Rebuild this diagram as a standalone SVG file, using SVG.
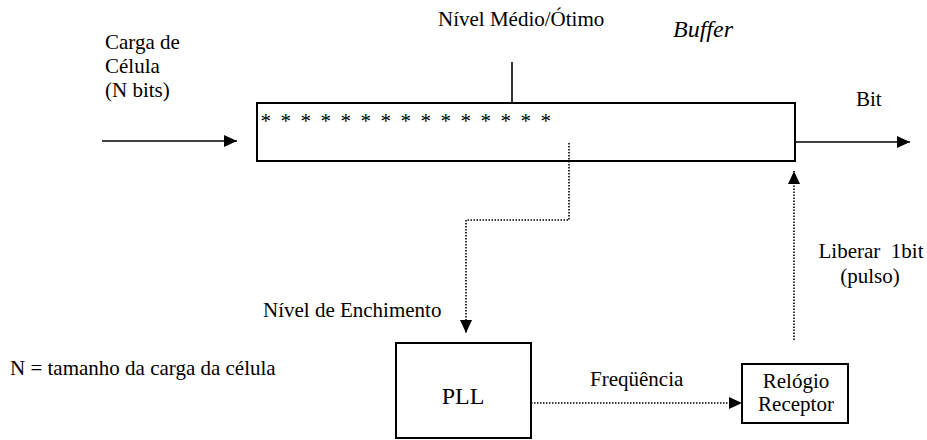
<svg xmlns="http://www.w3.org/2000/svg" width="927" height="440" viewBox="0 0 927 440">
<style>
text{font-family:'Liberation Serif',Tinos,'Times New Roman','DejaVu Serif',serif;font-size:21px;fill:#000}
.box{fill:#fff;stroke:#000;stroke-width:2}
.solid{fill:none;stroke:#000;stroke-width:1.6}
.dot{fill:none;stroke:#000;stroke-width:1.6;stroke-dasharray:1.5 1.5}
.mid{text-anchor:middle}
</style>
<defs>
<marker id="ah" markerUnits="userSpaceOnUse" markerWidth="13" markerHeight="12" refX="13" refY="6" orient="auto">
<path d="M0,0 L13,6 L0,12 z" fill="#000"/>
</marker>
</defs>
<g id="labels" font-family="Liberation Serif, serif">
<text x="105" y="49">Carga de</text>
<text x="105" y="73">Célula</text>
<text x="105" y="97">(N bits)</text>
<text x="438" y="26">Nível Médio/Ótimo</text>
<text x="673" y="37" font-style="italic" style="font-size:24px">Buffer</text>
<text x="856" y="106">Bit</text>
<text x="263" y="317">Nível de Enchimento</text>
<text x="10" y="375">N = tamanho da carga da célula</text>
<text x="590" y="386">Freqüência</text>
<text x="871" y="258" class="mid" xml:space="preserve">Liberar  1bit</text>
<text x="870" y="283" class="mid">(pulso)</text>
</g>
<g id="buffer">
<rect class="box" x="257" y="103" width="538" height="58"/>
<text x="260.5 280.5 300.5 320.5 340.5 360.5 380.5 400.5 420.5 440.5 460.5 480.5 500.5 520.5 540.5" y="128" fill="#333">***************</text>
</g>
<g id="pll">
<rect class="box" x="396" y="343" width="135" height="95"/>
<text x="463" y="404" class="mid" style="font-size:24px">PLL</text>
</g>
<g id="relogio">
<rect class="box" x="742" y="364" width="106" height="59"/>
<text x="796" y="388" class="mid">Relógio</text>
<text x="796" y="411" class="mid">Receptor</text>
</g>
<g id="connectors">
<line class="solid" x1="102" y1="141" x2="237" y2="141" marker-end="url(#ah)"/>
<line class="solid" x1="512" y1="62" x2="512" y2="103"/>
<line class="solid" x1="795" y1="142" x2="910" y2="142" marker-end="url(#ah)"/>
<path class="dot" d="M569,143 V220 H466 V333" marker-end="url(#ah)"/>
<line class="dot" x1="531" y1="403" x2="742" y2="403" marker-end="url(#ah)"/>
<line class="dot" x1="794" y1="340" x2="794" y2="171" marker-end="url(#ah)"/>
</g>
</svg>
